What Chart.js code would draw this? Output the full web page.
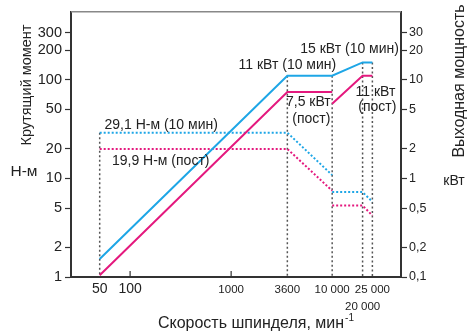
<!DOCTYPE html>
<html>
<head>
<meta charset="utf-8">
<script src="https://cdn.jsdelivr.net/npm/chart.js@4.4.1/dist/chart.umd.min.js"></script>
<style>
  body { margin: 0; background: #fff; }
  canvas { display: block; }
</style>
</head>
<body>
<canvas id="mycanvas" width="475" height="334"></canvas>
<script>
// speeds, min-1 (null y = break in the line)
var speedPow10 = [50, 3600, 10000, 20000, 25000];
var power10 = [0.152, 11, 11, 15, 15];            // кВт, 10 мин

var speedPowCont = [50, 3600, 10000, 10000, 10000, 20000, 25000];
var powerCont = [0.104, 7.5, 7.5, null, 5.7, 11, 11];   // кВт, пост

var speedTrq10 = [50, 3600, 10000, 10000, 10000, 20000, 25000];
var torque10 = [29.1, 29.1, 10.8, null, 7.26, 7.26, 5.8]; // Н-м, 10 мин

var speedTrqCont = [50, 3600, 10000, 10000, 10000, 20000, 25000];
var torqueCont = [19.9, 19.9, 7.5, null, 5.3, 5.3, 4.2];  // Н-м, пост

// vertical guide lines (top value in кВт on right axis)
var guideX = [50, 3600, 10000, 20000, 25000];
var guideTop = [2.91, 11, 11, 15, 15];

var xTicks = [50, 100, 1000, 3600, 10000, 20000, 25000];
var xTickLabels = ['50', '100', '1000', '3600', '10 000', ['', '20 000'], '25 000'];
var yTicks = [1, 2, 5, 10, 20, 50, 100, 200, 300];
var y2Ticks = [0.1, 0.2, 0.5, 1, 2, 5, 10, 20, 30];

var FONT = 'Liberation Sans, Arial, sans-serif';
var BLUE = '#1ea6e6';
var PINK = '#e4197e';

function pts(xs, ys) {
	var out = [];
	for (var i in xs) {
		out.push({x: xs[i], y: ys[i]});
	}
	return out;
}

var datasets = [
	{ data: pts(speedPow10, power10), yAxisID: 'y2', borderColor: BLUE, borderWidth: 2 },
	{ data: pts(speedPowCont, powerCont), yAxisID: 'y2', borderColor: PINK, borderWidth: 2 },
	{ data: pts(speedTrq10, torque10), yAxisID: 'y', borderColor: BLUE, borderWidth: 2, borderDash: [2, 2] },
	{ data: pts(speedTrqCont, torqueCont), yAxisID: 'y', borderColor: PINK, borderWidth: 2, borderDash: [2, 2] }
];
for (var g in guideX) {
	datasets.push({
		data: [{x: guideX[g], y: guideTop[g]}, {x: guideX[g], y: 0.1}],
		yAxisID: 'y2', borderColor: '#555', borderWidth: 1.5, borderDash: [2, 2.5]
	});
}

// text labels anchored to data values, offsets in px
var notes = [
	{ text: '29,1 Н-м (10 мин)', x: 50, y: 29.1, axis: 'y', dx: 61.5, dy: -7 },
	{ text: '19,9 Н-м (пост)', x: 50, y: 19.9, axis: 'y', dx: 61, dy: 12 },
	{ text: '11 кВт (10 мин)', x: 3600, y: 11, axis: 'y2', dx: 0, dy: -11 },
	{ text: '15 кВт (10 мин)', x: 20000, y: 15, axis: 'y2', dx: -13, dy: -13.5 },
	{ text: '7,5 кВт', x: 3600, y: 7.5, axis: 'y2', dx: 21, dy: 10 },
	{ text: '(пост)', x: 3600, y: 7.5, axis: 'y2', dx: 24, dy: 27 },
	{ text: '11 кВт', x: 25000, y: 11, axis: 'y2', dx: 3, dy: 16 },
	{ text: '(пост)', x: 25000, y: 11, axis: 'y2', dx: 5, dy: 31.5 }
];

var extras = {
	id: 'extras',
	afterDraw: function(chart) {
		var ctx = chart.ctx;
		var a = chart.chartArea;
		var xs = chart.scales.x;
		ctx.save();
		// top frame line
		ctx.strokeStyle = '#888';
		ctx.lineWidth = 1.5;
		ctx.beginPath();
		ctx.moveTo(a.left, a.top);
		ctx.lineTo(a.right, a.top);
		ctx.stroke();
		// inward ticks on x axis
		ctx.strokeStyle = '#333';
		ctx.lineWidth = 1.2;
		[100, 1000].forEach(function(v) {
			var px = xs.getPixelForValue(v);
			ctx.beginPath();
			ctx.moveTo(px, a.bottom);
			ctx.lineTo(px, a.bottom - 6);
			ctx.stroke();
		});
		// notes
		ctx.fillStyle = '#222';
		ctx.textAlign = 'center';
		ctx.textBaseline = 'middle';
		ctx.font = '14px ' + FONT;
		notes.forEach(function(n) {
			var px = xs.getPixelForValue(n.x) + n.dx;
			var py = chart.scales[n.axis].getPixelForValue(n.y) + n.dy;
			ctx.fillText(n.text, px, py);
		});
		// axis titles
		ctx.font = '15.5px ' + FONT;
		ctx.fillText('Н-м', 24, 172);
		ctx.font = '14px ' + FONT;
		ctx.fillText('кВт', 454, 181);
		ctx.save();
		ctx.font = '14.5px ' + FONT;
		ctx.translate(27, 85);
		ctx.rotate(-Math.PI / 2);
		ctx.fillText('Крутящий момент', 0, 0);
		ctx.restore();
		ctx.save();
		ctx.font = '16px ' + FONT;
		ctx.translate(460, 81);
		ctx.rotate(-Math.PI / 2);
		ctx.fillText('Выходная мощность', 0, 0);
		ctx.restore();
		ctx.font = '16px ' + FONT;
		var main = 'Скорость шпинделя, мин';
		var w = ctx.measureText(main).width;
		ctx.textAlign = 'left';
		var x0 = 256 - (w + 10) / 2;
		ctx.fillText(main, x0, 324);
		ctx.font = '10px ' + FONT;
		ctx.fillText('-1', x0 + w + 1, 318);
		ctx.restore();
	}
};

var ctx = document.getElementById('mycanvas');

var chart = new Chart(ctx, {
	type: 'line',
	data: { datasets: datasets },
	options: {
		responsive: false,
		animation: false,
		layout: { padding: { top: 11, left: 0, right: 0, bottom: 0 } },
		elements: { point: { radius: 0 }, line: { tension: 0 } },
		plugins: { legend: { display: false }, tooltip: { enabled: false } },
		scales: {
			x: {
				type: 'logarithmic',
				min: 26, max: 48000,
				afterBuildTicks: function(axis) { axis.ticks = xTicks.map(function(v) { return {value: v}; }); },
				afterFit: function(axis) { axis.height = 57; },
				grid: { display: false, drawTicks: false },
				border: { display: true, color: '#333', width: 2 },
				ticks: {
					autoSkip: false, maxRotation: 0, padding: 4, color: '#222',
					font: function(c) {
						var big = c.tick && c.tick.value < 500;
						return { family: FONT, size: big ? 14 : 11.5, lineHeight: big ? 1.2 : 1.5 };
					},
					callback: function(v) { return xTickLabels[xTicks.indexOf(v)]; }
				}
			},
			y: {
				type: 'logarithmic', position: 'left',
				min: 1, max: 490,
				afterBuildTicks: function(axis) { axis.ticks = yTicks.map(function(v) { return {value: v}; }); },
				afterFit: function(axis) { axis.width = 71; },
				grid: { drawOnChartArea: false, drawTicks: true, tickLength: 6, tickColor: '#333', tickWidth: 1.2 },
				border: { display: true, color: '#333', width: 2 },
				ticks: {
					autoSkip: false, padding: 3, color: '#222',
					font: { family: FONT, size: 14.5 },
					callback: function(v) { return String(v); }
				}
			},
			y2: {
				type: 'logarithmic', position: 'right',
				min: 0.1, max: 49,
				afterBuildTicks: function(axis) { axis.ticks = y2Ticks.map(function(v) { return {value: v}; }); },
				afterFit: function(axis) { axis.width = 74; },
				grid: { drawOnChartArea: false, drawTicks: true, tickLength: 6, tickColor: '#333', tickWidth: 1.2 },
				border: { display: true, color: '#333', width: 2 },
				ticks: {
					autoSkip: false, padding: 2, color: '#222',
					font: { family: FONT, size: 12.5 },
					callback: function(v) { return String(v).replace('.', ','); }
				}
			}
		}
	},
	plugins: [extras]
});
</script>
</body>
</html>
